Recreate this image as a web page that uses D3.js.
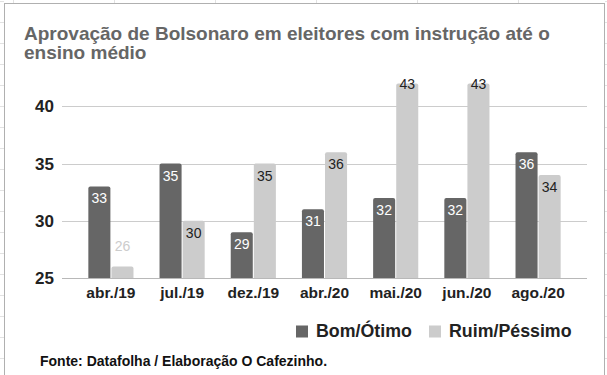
<!DOCTYPE html>
<html>
<head>
<meta charset="utf-8">
<script src="https://cdn.jsdelivr.net/npm/d3@7"></script>
<style>
  body { margin: 0; background: #fff; }
  svg { display: block; font-family: "Liberation Sans", Arial, sans-serif; }
</style>
</head>
<body>
<div id="chart"></div>
<script>
// data
const categories = ['abr./19', 'jul./19', 'dez./19', 'abr./20', 'mai./20', 'jun./20', 'ago./20'];
const seriesNames = ['Bom/Ótimo', 'Ruim/Péssimo'];
const bomOtimo = [33, 35, 29, 31, 32, 32, 36];
const ruimPessimo = [26, 30, 35, 36, 43, 43, 34];
const yTicks = [25, 30, 35, 40];

const width = 607, height = 375;
const colors = ['#666666', '#cccccc'];

const svg = d3.select('#chart').append('svg')
  .attr('width', width)
  .attr('height', height);

// spreadsheet grid peeking out behind the chart
const sheet = svg.append('g').attr('stroke', '#e2e2e2').attr('stroke-width', 1);
d3.range(13.5, width, 101).forEach(x => {
  sheet.append('line').attr('x1', x).attr('x2', x).attr('y1', 0).attr('y2', 3);
});
d3.range(1.5, height, 21).forEach(y => {
  sheet.append('line').attr('x1', 0).attr('x2', 4).attr('y1', y).attr('y2', y);
  sheet.append('line').attr('x1', 605).attr('x2', width).attr('y1', y).attr('y2', y);
});

// chart frame
svg.append('rect')
  .attr('x', 4.5).attr('y', 3.5)
  .attr('width', 600).attr('height', height + 10)
  .attr('fill', '#fff')
  .attr('stroke', '#b0b0b0');

// title
const title = svg.append('text')
  .attr('x', 24)
  .attr('fill', '#666')
  .style('font-size', '19px')
  .style('font-weight', 'bold');
title.append('tspan').attr('x', 24).attr('y', 40).text('Aprovação de Bolsonaro em eleitores com instrução até o');
title.append('tspan').attr('x', 24).attr('y', 59).text('ensino médio');

// scales
const x0 = d3.scaleBand()
  .domain(categories)
  .range([62, 587])
  .paddingInner(0.366)
  .paddingOuter(0.37);

const x1 = d3.scaleBand()
  .domain(seriesNames)
  .range([0, x0.bandwidth()])
  .paddingInner(0.045);

const y = d3.scaleLinear()
  .domain([25, 42])
  .range([278, 83.5]);

// gridlines
svg.append('g')
  .selectAll('line')
  .data(yTicks)
  .join('line')
  .attr('x1', 62).attr('x2', 587)
  .attr('y1', d => Math.round(y(d)) + 0.5)
  .attr('y2', d => Math.round(y(d)) + 0.5)
  .attr('stroke', d => d === 25 ? '#b8b8b8' : '#cccccc');

// y axis labels
const yAxis = svg.append('g')
  .attr('transform', 'translate(54,0)')
  .call(d3.axisLeft(y).tickValues(yTicks).tickSize(0).tickPadding(0));
yAxis.select('.domain').remove();
yAxis.selectAll('text')
  .attr('fill', '#222')
  .style('font-size', '17px')
  .style('font-weight', 'bold')
  .style('font-family', '"Liberation Sans", Arial, sans-serif');

// x axis labels
const xAxis = svg.append('g')
  .attr('transform', 'translate(0,287)')
  .call(d3.axisBottom(x0).tickSize(0).tickPadding(0));
xAxis.select('.domain').remove();
xAxis.selectAll('text')
  .attr('fill', '#222')
  .attr('dy', '0.71em')
  .style('font-size', '15.5px')
  .style('font-weight', 'bold')
  .style('font-family', '"Liberation Sans", Arial, sans-serif');

// bars
const rows = categories.map((c, i) => ({
  cat: c,
  vals: [
    { key: seriesNames[0], value: bomOtimo[i], s: 0 },
    { key: seriesNames[1], value: ruimPessimo[i], s: 1 }
  ]
}));

// bar with rounded top corners
function barPath(x, top, w, bottom, r) {
  return `M${x},${bottom}V${top + r}Q${x},${top} ${x + r},${top}H${x + w - r}Q${x + w},${top} ${x + w},${top + r}V${bottom}Z`;
}

const groups = svg.append('g')
  .selectAll('g')
  .data(rows)
  .join('g')
  .attr('transform', d => `translate(${x0(d.cat)},0)`);

const yMax = y.domain()[1];

groups.selectAll('path')
  .data(d => d.vals)
  .join('path')
  .attr('d', d => barPath(x1(d.key), y(Math.min(d.value, yMax)), x1.bandwidth(), y(25), 2))
  .attr('fill', d => colors[d.s]);

// value labels
groups.selectAll('text')
  .data(d => d.vals)
  .join('text')
  .attr('x', d => x1(d.key) + x1.bandwidth() / 2)
  .attr('y', d => {
    if (d.value > yMax) return y(yMax) + 5.5;
    if (y(25) - y(d.value) < 20) return y(d.value) - 16;
    return y(d.value) + 17;
  })
  .attr('text-anchor', 'middle')
  .attr('fill', d => {
    if (y(25) - y(d.value) < 20) return colors[d.s];
    return d.s === 0 ? '#ffffff' : '#222222';
  })
  .style('font-size', '14px')
  .text(d => d.value);

// legend
const legend = svg.append('g');
const legendItems = [
  { name: seriesNames[0], x: 296, color: colors[0] },
  { name: seriesNames[1], x: 429, color: colors[1] }
];
legendItems.forEach(it => {
  legend.append('rect')
    .attr('x', it.x).attr('y', 325.5)
    .attr('width', 12).attr('height', 12)
    .attr('fill', it.color);
  legend.append('text')
    .attr('x', it.x + 20).attr('y', 336.5)
    .attr('fill', '#222')
    .style('font-size', '17.8px')
    .style('font-weight', 'bold')
    .text(it.name);
});

// source note
svg.append('text')
  .attr('x', 40).attr('y', 366)
  .attr('fill', '#111')
  .style('font-size', '14px')
  .style('font-weight', 'bold')
  .text('Fonte: Datafolha / Elaboração O Cafezinho.');
</script>
</body>
</html>
